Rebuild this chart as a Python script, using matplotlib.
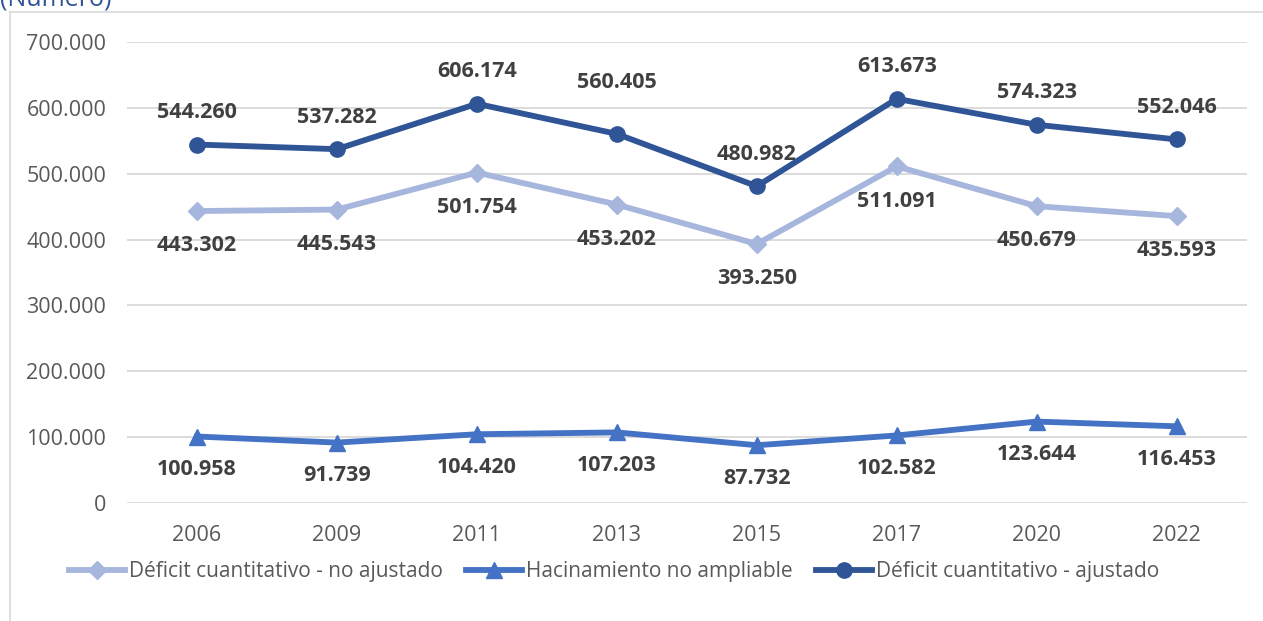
import matplotlib.pyplot as plt
from matplotlib.lines import Line2D
from matplotlib.ticker import FuncFormatter

# data
years = ['2006', '2009', '2011', '2013', '2015', '2017', '2020', '2022']
no_ajustado = [443302, 445543, 501754, 453202, 393250, 511091, 450679, 435593]
hacinamiento = [100958, 91739, 104420, 107203, 87732, 102582, 123644, 116453]
ajustado = [544260, 537282, 606174, 560405, 480982, 613673, 574323, 552046]

labels = ['Déficit cuantitativo - no ajustado', 'Hacinamiento no ampliable',
          'Déficit cuantitativo - ajustado']

plt.rcParams['font.family'] = ['Open Sans', 'DejaVu Sans']

fig = plt.figure(figsize=(12.63, 6.21), dpi=100)
ax = fig.add_axes([0.1006, 0.19, 0.8864, 0.7424])

x = range(len(years))
c_light = '#A7B6DD'
c_mid = '#4472C4'
c_dark = '#2F5597'

ax.plot(x, no_ajustado, color=c_light, lw=4.2, marker='D', ms=9, label=labels[0])
ax.plot(x, hacinamiento, color=c_mid, lw=4.2, marker='^', ms=11, label=labels[1])
ax.plot(x, ajustado, color=c_dark, lw=4.2, marker='o', ms=11, label=labels[2])

def fmt(v):
    return f'{v:,.0f}'.replace(',', '.')

lab_kw = dict(textcoords='offset points', ha='center', va='center', fontsize=15.5,
              fontweight='bold', color='#404040')

# data labels (2013 label of the top series was moved up in the original)
top_offsets = [23, 23, 23, 37, 23, 23, 23, 23]
for i, v in enumerate(ajustado):
    ax.annotate(fmt(v), (i, v), xytext=(0, top_offsets[i]), **lab_kw)
for i, v in enumerate(no_ajustado):
    ax.annotate(fmt(v), (i, v), xytext=(0, -25), **lab_kw)
for i, v in enumerate(hacinamiento):
    ax.annotate(fmt(v), (i, v), xytext=(0, -24), **lab_kw)

ax.set_xlim(-0.5, len(years) - 0.5)
ax.set_ylim(0, 700000)
ax.set_yticks(range(0, 700001, 100000))
ax.yaxis.set_major_formatter(FuncFormatter(lambda v, p: fmt(v)))
ax.set_xticks(list(x))
ax.set_xticklabels(years)
ax.grid(axis='y', color='#D9D9D9', lw=1.3)
ax.set_axisbelow(True)
for s in ax.spines.values():
    s.set_visible(False)
ax.tick_params(length=0, labelsize=15.5, colors='#595959')
ax.tick_params(axis='y', pad=15)
ax.tick_params(axis='x', pad=16)

leg = fig.legend(loc='center', bbox_to_anchor=(614 / 1263, 1 - 572 / 621), ncol=3,
                 frameon=False, fontsize=15, handlelength=2.7, handletextpad=0.2,
                 columnspacing=1.1, labelcolor='#595959', borderaxespad=0)

# outer frame (cropped)
fig.add_artist(Line2D([10 / 1263, 1], [1 - 12 / 621, 1 - 12 / 621], color='#D9D9D9', lw=1.2))
fig.add_artist(Line2D([10 / 1263, 10 / 1263], [0, 1 - 12 / 621], color='#D9D9D9', lw=1.2))
fig.text(0.0, 1 - 5 / 621, '(Número)', color=c_dark, fontsize=18, ha='left', va='baseline')

fig.savefig('out.png', dpi=100)
